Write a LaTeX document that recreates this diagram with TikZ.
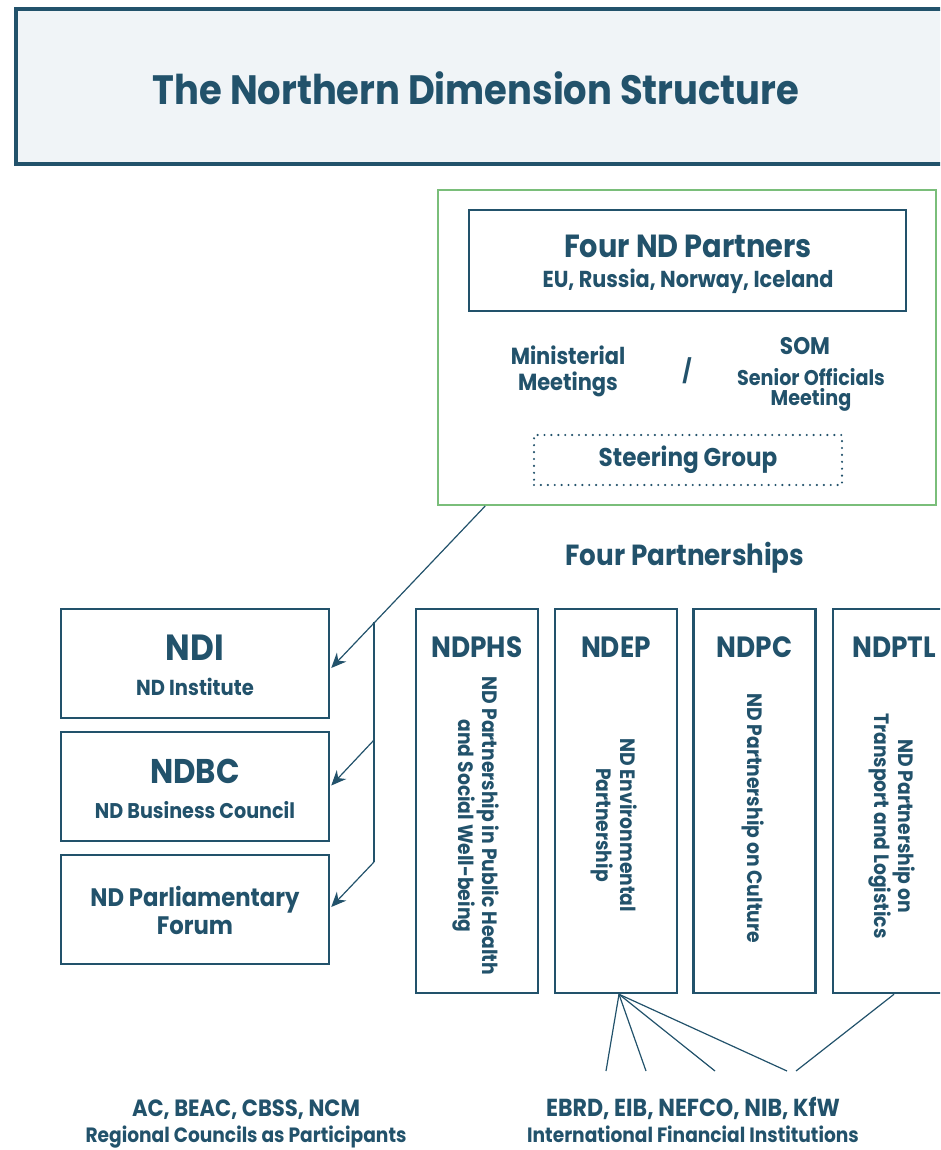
\documentclass[tikz,border=0pt]{standalone}
\usepackage{fontspec}
\setmainfont[FakeStretch=0.9]{Poppins}
\usetikzlibrary{arrows.meta,calc}
\definecolor{dk}{RGB}{34,82,107}
\definecolor{gr}{RGB}{122,190,122}
\definecolor{tfill}{RGB}{240,244,247}
\newcommand\fz[2]{\fontsize{#1}{#2}\selectfont\bfseries}
\tikzset{
  txt/.style={text=dk, inner sep=0pt, align=center},
  box/.style={draw=dk, line width=2.5pt, inner sep=0pt},
  dotbox/.style={draw=dk, line width=2.4pt, dash pattern=on 0pt off 6.9pt, line cap=round, inner sep=0pt, text=dk},
  conn/.style={draw=dk, line width=1.2pt},
  arr/.style={conn, -{Stealth[length=15pt,width=13pt]}},
  vtxt/.style={txt, rotate=-90},
}
\begin{document}
\begin{tikzpicture}[x=1pt,y=-1pt]
\useasboundingbox (0,0) rectangle (940,1150);
\clip (0,0) rectangle (940,1150);
% title
\node[draw=dk, fill=tfill, line width=4pt, minimum width=960, minimum height=155, inner sep=0pt] (tbox) at (496,87) {};
\node[txt, font=\fz{41}{48}] (title) at (476,88) {The Northern Dimension Structure};
% green group
\node[draw=gr, line width=2pt, minimum width=498, minimum height=315, inner sep=0pt] (grp) at (687,347.5) {};
\node[box, minimum width=437, minimum height=101] (fp) at (687.5,260.5) {};
\node[txt, font=\fz{32}{36}] (fpt) at (688,246) {Four ND Partners};
\node[txt, font=\fz{23.1}{26}] (fps) at (688,281) {EU, Russia, Norway, Iceland};
\node[txt, font=\fz{23.3}{26}] (mm) at (568,371) {Ministerial\\Meetings};
\node[txt, font=\fz{23}{26}] (sl) at (687,371) {/};
\node[txt, font=\fz{24}{26}] (som) at (805,346) {SOM};
\node[txt, font=\fz{21.3}{20}] (sen) at (811,390) {Senior Officials\\Meeting};
\node[dotbox, minimum width=308, minimum height=50, font=\fz{25.7}{30}] (sg) at (688,460) {Steering Group};
% left boxes
\node[box, minimum width=268, minimum height=109] (ndi) at (195,663.5) {};
\node[txt, font=\fz{36.4}{40}] (ndit) at (195,648) {NDI};
\node[txt, font=\fz{21.7}{24}] (ndis) at (195,687) {ND Institute};
\node[box, minimum width=268, minimum height=109] (ndbc) at (195,786.5) {};
\node[txt, font=\fz{34.3}{40}] (ndbct) at (195,771) {NDBC};
\node[txt, font=\fz{21.3}{24}] (ndbcs) at (195,810) {ND Business Council};
\node[box, minimum width=268, minimum height=109] (pf) at (195,909.5) {};
\node[txt, font=\fz{25.3}{28}] (pft) at (195,910) {ND Parliamentary\\Forum};
% partnerships
\node[txt, font=\fz{29.1}{30}] (fpart) at (685,558) {Four Partnerships};
\foreach \n/\x/\l in {phs/477/NDPHS, ep/616/NDEP, pc/754.5/NDPC, ptl/894/NDPTL}{
  \node[box, minimum width=122, minimum height=384] (b\n) at (\x,801) {};
  \node[txt, font=\fz{29.3}{30}] (l\n) at (\x,647) {\l};
}
\node[vtxt, font=\fz{20.8}{24}] (vphs) at (476,826) {ND Partnership in Public Health\\and Social Well-being};
\node[vtxt, font=\fz{20.8}{24}] (vep) at (614,825) {ND Environmental\\Partnership};
\node[vtxt, font=\fz{20.8}{24}] (vpc) at (753,818) {ND Partnership on Culture};
\node[vtxt, font=\fz{20.8}{24}] (vptl) at (892,826) {ND Partnership on\\Transport and Logistics};
% bottom labels
\node[txt, anchor=base, font=\fz{23.5}{26}] (rc1) at (246,1116) {AC, BEAC, CBSS, NCM};
\node[txt, anchor=base, font=\fz{20.7}{22}] (rc2) at (246,1142) {Regional Councils as Participants};
\node[txt, anchor=base, font=\fz{24.6}{26}] (ifi1) at (693,1116) {EBRD, EIB, NEFCO, NIB, KfW};
\node[txt, anchor=base, font=\fz{20.7}{22}] (ifi2) at (693,1142) {International Financial Institutions};
% connectors
\coordinate (gs) at ($(grp.south west)!0.0964!(grp.south east)$);
\coordinate (j1) at (374,622);
\coordinate (j2) at (374,740);
\coordinate (j3) at (374,862);
\draw[arr] (gs) -- ($(ndi.east)+(1,4.5)$);
\draw[conn] (j1) -- (j3);
\draw[arr] (j2) -- ($(ndbc.east)+(1,-1)$);
\draw[arr] (j3) -- ($(pf.east)+(1,-2.5)$);
\coordinate (e1) at (606,1071);
\coordinate (e2) at (646,1071);
\coordinate (e3) at (715,1071);
\coordinate (e4) at (787,1071);
\coordinate (e5) at (796,1071);
\coordinate (ea) at ($(bep.south)+(3,0)$);
\foreach \e in {e1,e2,e3,e4} \draw[conn] (ea) -- (\e);
\draw[conn] (bptl.south) -- (e5);
\end{tikzpicture}
\end{document}
